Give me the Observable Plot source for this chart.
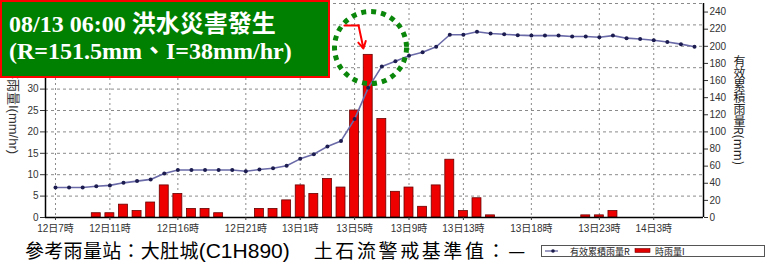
<!DOCTYPE html>
<html><head><meta charset="utf-8">
<script src="https://cdn.jsdelivr.net/npm/d3@7"></script>
<script src="https://cdn.jsdelivr.net/npm/@observablehq/plot@0.6"></script>
<style>
body{margin:0;background:#fff;}
#wrap{position:relative;width:774px;height:267px;overflow:hidden;font-family:"Liberation Sans",Arial,"Noto Sans CJK TC",sans-serif;}
#chart{position:absolute;left:0;top:0;}
#title{position:absolute;left:0;top:0;width:319px;height:65px;background:#008000;border:2px solid #ff0000;color:#fff;
  font-family:"Liberation Serif","Noto Sans CJK TC",serif;font-weight:bold;font-size:24px;line-height:27px;padding:9px 0 0 7px;white-space:nowrap;}
#ylabL{position:absolute;left:5px;top:66px;writing-mode:vertical-rl;text-orientation:sideways;font-size:13px;color:#333;font-family:"Liberation Sans","Noto Sans CJK TC",sans-serif;}
#ylabR{position:absolute;left:731px;top:55px;writing-mode:vertical-rl;font-size:12px;color:#222;font-family:"Noto Sans CJK TC","Liberation Sans",sans-serif;}
#note{position:absolute;left:25px;top:240px;font-size:19px;line-height:20px;color:#000;font-family:"Noto Sans CJK TC",sans-serif;white-space:nowrap;letter-spacing:0.3px;}
#note .lat{font-family:"Liberation Sans",Arial,sans-serif;font-size:21px;letter-spacing:0;}
#note .b{margin-left:24px;letter-spacing:2.6px;}
#legend{position:absolute;left:541px;top:245px;}
</style></head>
<body>
<div id="wrap">
  <div id="chart"></div>
  <div id="ylabL">時雨量I(mm/hr)</div>
  <div id="ylabR">有效累積雨量R(mm)</div>
  <div id="title">08/13 06:00 洪水災害發生<br>(R=151.5mm、I=38mm/hr)</div>
  <div id="note">參考雨量站：大肚城<span class="lat">(C1H890)</span><span class="b">土石流警戒基準值：—</span></div>
  <svg id="legend" width="225" height="12">
    <rect x="0.5" y="0.5" width="223" height="11" fill="#fff" stroke="#555" stroke-width="1"></rect>
    <line x1="4" y1="6" x2="17" y2="6" stroke="#5a5a9a" stroke-width="1.2"></line>
    <circle cx="12" cy="6" r="1.8" fill="#1a1a4a"></circle>
    <text x="29" y="9.5" font-size="9" fill="#222" font-family="Noto Sans CJK TC">有效累積雨量R</text>
    <rect x="94" y="3.5" width="15" height="4" fill="#e00000" stroke="#700" stroke-width="0.6"></rect>
    <text x="114" y="9.5" font-size="9" fill="#222" font-family="Noto Sans CJK TC">時雨量I</text>
  </svg>
</div>
<script>
// hourly rainfall I (mm/hr), 12日7時 .. 14日6時
const rainI = [0,0,0,1,1,3,1.5,3.5,7.5,5.5,2,2,1,0,0,2,2,4,7.5,5.5,9,7,25,38,23,6,7,2.5,7.5,13.5,1.5,4.5,0.5,0,0,0,0,0,0,0.5,0.5,1.5,0,0,0,0,0,0];
// effective cumulative rainfall R (mm)
const cumR = [35,35,35,36.5,37.5,40.5,42.5,44.5,51.5,55.5,55.5,55.5,55.5,55.5,54,56,57.5,60.5,68.5,74,83,89.5,115,151.5,176.5,182.5,189,193,199.5,213.5,213.5,217,215,214,213,212.5,212.5,212.5,211.5,211.5,210.5,212.5,209.5,208.5,207,205,202.5,199.5];
const tickIdx = [0,4,9,14,18,22,26,30,35,40,44];
const tickLabels = ["12日7時","12日11時","12日16時","12日21時","13日1時","13日5時","13日9時","13日13時","13日18時","13日23時","14日3時"];
const gridTicks = [5,10,15,20,25,30,35,40,45,50];
const leftTicks = [0,5,10,15,20,25,30];
const rightTicks = [0,20,40,60,80,100,120,140,160,180,200,220,240];
// annotation (data units: hour index, left-axis mm/hr)
const circleAt = [{i:23.17, y:39.7}];
const arrowBar = [{i:21.25, y:44.85},{i:22.29, y:44.85}];
const arrowTip = [{x1:22.29, y1:44.85, x2:22.65, y2:39.47}];

const ratio = 5; // right axis = left * 5
const bars = rainI.map((v,i)=>({i, v})).filter(d=>d.v>0);
const cum = cumR.map((r,i)=>({i, r}));
const labelMap = new Map(tickIdx.map((d,k)=>[d, tickLabels[k]]));
const xDom = [-0.735, 47.66];

const chart = Plot.plot({
  width: 774, height: 235,
  marginLeft: 45, marginRight: 71, marginTop: 3, marginBottom: 18,
  style: {fontFamily: "'Liberation Sans', Arial, 'Noto Sans CJK TC', sans-serif", fontSize: "10px", background: "transparent"},
  x: {domain: xDom, axis: null},
  y: {domain: [0, 50], axis: null},
  marks: [
    Plot.gridY(gridTicks, {stroke: "#8a8a8a", strokeOpacity: 1, strokeDasharray: "3,3", strokeWidth: 1}),
    Plot.gridX(tickIdx, {stroke: "#8a8a8a", strokeOpacity: 1, strokeDasharray: "2,3", strokeWidth: 1}),
    Plot.rectY(bars, {x1: d => d.i - 0.33, x2: d => d.i + 0.33, y: "v", fill: "#ee0000", stroke: "#6a0000", strokeWidth: 0.8}),
    Plot.line(cum, {x: "i", y: d => d.r / ratio, stroke: "#6a6aa8", strokeWidth: 1.6}),
    Plot.dot(cum, {x: "i", y: d => d.r / ratio, r: 2, fill: "#1c1c50"}),
    Plot.ruleX([xDom[0], xDom[1]], {stroke: "#000", strokeWidth: 1.5}),
    Plot.ruleY([0], {stroke: "#000", strokeWidth: 1.5}),
    Plot.axisY(leftTicks, {anchor: "left", tickSize: 5, tickPadding: 2, color: "#333", label: null}),
    Plot.axisY(rightTicks.map(d => d / ratio), {anchor: "right", tickSize: 4, tickPadding: 2, color: "#333", label: null, tickFormat: d => Math.round(d * ratio)}),
    Plot.axisX(tickIdx, {anchor: "bottom", tickSize: 3, tickPadding: 4, color: "#333", label: null, tickFormat: d => labelMap.get(d)}),
    Plot.dot(circleAt, {x: "i", y: "y", r: 36, stroke: "#0a870a", strokeWidth: 5, strokeDasharray: "5,5", fill: "none"}),
    Plot.line(arrowBar, {x: "i", y: "y", stroke: "#ff0000", strokeWidth: 2}),
    Plot.arrow(arrowTip, {x1: "x1", y1: "y1", x2: "x2", y2: "y2", stroke: "#ff0000", strokeWidth: 2, headLength: 19, headAngle: 58})
  ]
});
document.getElementById("chart").appendChild(chart);
</script>
</body></html>
